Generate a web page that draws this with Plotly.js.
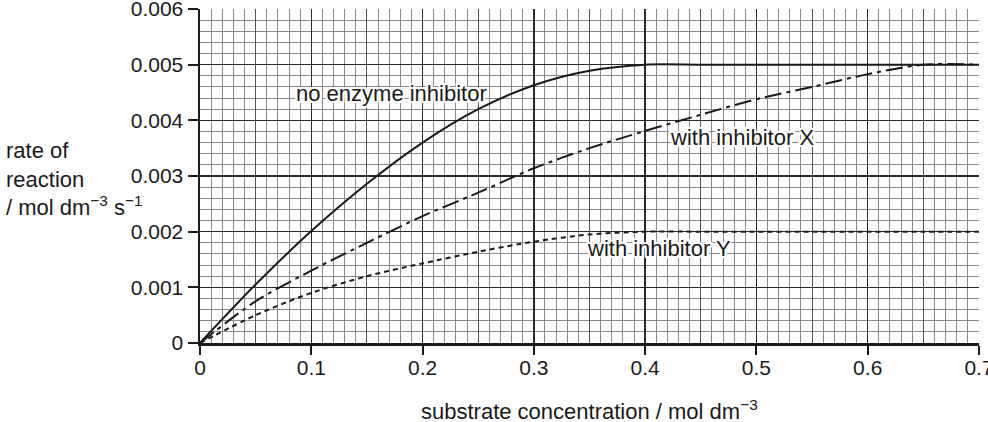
<!DOCTYPE html>
<html>
<head>
<meta charset="utf-8">
<script src="https://cdn.plot.ly/plotly-3.0.1.min.js"></script>
<style>
  body { margin: 0; background: #fff; }
  #chart { width: 988px; height: 422px; }
</style>
</head>
<body>
<div id="chart"></div>
<script>
// substrate concentration / mol dm-3
var concentration = [0, 0.05, 0.1, 0.15, 0.2, 0.25, 0.3, 0.35, 0.4, 0.45, 0.5, 0.55, 0.6, 0.65, 0.7];
// rate of reaction / mol dm-3 s-1
var noInhibitor = [0, 0.00105, 0.00201, 0.00286, 0.0036, 0.0042, 0.00463, 0.00489, 0.005, 0.005, 0.005, 0.005, 0.005, 0.005, 0.005];
var inhibitorX = [0, 0.00075, 0.0013, 0.0018, 0.00228, 0.0027, 0.00314, 0.0035, 0.00381, 0.0041, 0.00438, 0.0046, 0.00483, 0.005, 0.005];
var inhibitorY = [0, 0.0005, 0.0009, 0.0012, 0.00143, 0.00164, 0.00182, 0.00195, 0.002, 0.002, 0.002, 0.002, 0.002, 0.002, 0.002];

var seriesNames = ['no enzyme inhibitor', 'with inhibitor X', 'with inhibitor Y'];
var xTicks = [0, 0.1, 0.2, 0.3, 0.4, 0.5, 0.6, 0.7];
var yTicks = [0, 0.001, 0.002, 0.003, 0.004, 0.005, 0.006];

function makeRateChart(divElement) {
  var plotDiv = document.getElementById(divElement);
  var ink = '#1a1a1a';
  var font = 'Liberation Sans, Arial, sans-serif';
  var halo = '2px 0 0 #fff, -2px 0 0 #fff, 0 2px 0 #fff, 0 -2px 0 #fff, 2px 2px 0 #fff, -2px -2px 0 #fff, 2px -2px 0 #fff, -2px 2px 0 #fff';

  var traces = [
    { x: concentration, y: noInhibitor, name: seriesNames[0], type: 'scatter', mode: 'lines',
      line: { shape: 'spline', smoothing: 0.8, color: ink, width: 2 } },
    { x: concentration, y: inhibitorX, name: seriesNames[1], type: 'scatter', mode: 'lines',
      line: { shape: 'spline', smoothing: 0.8, color: ink, width: 2, dash: '17px,5px,4px,5px' } },
    { x: concentration, y: inhibitorY, name: seriesNames[2], type: 'scatter', mode: 'lines',
      line: { shape: 'spline', smoothing: 0.8, color: ink, width: 2, dash: '5px,4px' } },
    // invisible helper so the half-step vertical lines get drawn
    { x: [0], y: [0], xaxis: 'x2', type: 'scatter', mode: 'none', hoverinfo: 'skip', showlegend: false }
  ];

  var labelFont = { family: font, size: 22, color: ink, shadow: halo };
  var layout = {
    width: 988, height: 422,
    margin: { l: 200, r: 9, t: 9, b: 79 },
    paper_bgcolor: '#fff', plot_bgcolor: '#fff',
    showlegend: false,
    font: { family: font, size: 22, color: ink },
    xaxis: {
      range: [0, 0.7], tickvals: xTicks, ticktext: xTicks.map(String),
      tickfont: { size: 21 }, ticklabeloverflow: 'allow', ticklabelstandoff: -5,
      showgrid: true, gridcolor: '#2a2a2a', gridwidth: 1.5,
      minor: { dtick: 0.01, showgrid: true, gridcolor: '#8a8a8a', gridwidth: 1 },
      showline: true, linecolor: ink, linewidth: 2.5,
      ticks: 'outside', ticklen: 9, tickwidth: 2, tickcolor: ink,
      zeroline: false, fixedrange: true
    },
    xaxis2: {
      overlaying: 'x', range: [0, 0.7], tick0: 0.05, dtick: 0.1,
      showgrid: true, gridcolor: '#555', gridwidth: 1,
      showticklabels: false, ticks: '', zeroline: false, showline: false
    },
    yaxis: {
      range: [0, 0.006], tickvals: yTicks, ticktext: yTicks.map(String),
      tickfont: { size: 21 }, ticklabeloverflow: 'allow',
      showgrid: true, gridcolor: '#2a2a2a', gridwidth: 1.5,
      minor: { dtick: 0.0002, showgrid: true, gridcolor: '#8a8a8a', gridwidth: 1 },
      showline: true, linecolor: ink, linewidth: 2.5,
      ticks: 'outside', ticklen: 10, tickwidth: 2, tickcolor: ink,
      zeroline: false, fixedrange: true
    },
    annotations: [
      { x: 0.172, y: 0.00449, text: seriesNames[0], showarrow: false, font: labelFont },
      { x: 0.487, y: 0.0037, text: seriesNames[1], showarrow: false, font: labelFont },
      { x: 0.4125, y: 0.0017, text: seriesNames[2], showarrow: false, font: labelFont },
      { xref: 'paper', yref: 'paper', x: -0.2516, y: 0.491, xanchor: 'left', yanchor: 'middle', align: 'left',
        showarrow: false, text: 'rate of<br>reaction<br>/ mol dm<sup>−3</sup> s<sup>−1</sup>',
        font: { family: font, size: 22, color: ink } },
      { xref: 'paper', yref: 'paper', x: 0.5, y: -0.2, xanchor: 'center', yanchor: 'middle',
        showarrow: false, text: 'substrate concentration / mol dm<sup>−3</sup>',
        font: { family: font, size: 22, color: ink } }
    ]
  };
  var conf = { displayModeBar: false, staticPlot: true };
  Plotly.newPlot(plotDiv, traces, layout, conf);
}

makeRateChart('chart');
</script>
</body>
</html>
